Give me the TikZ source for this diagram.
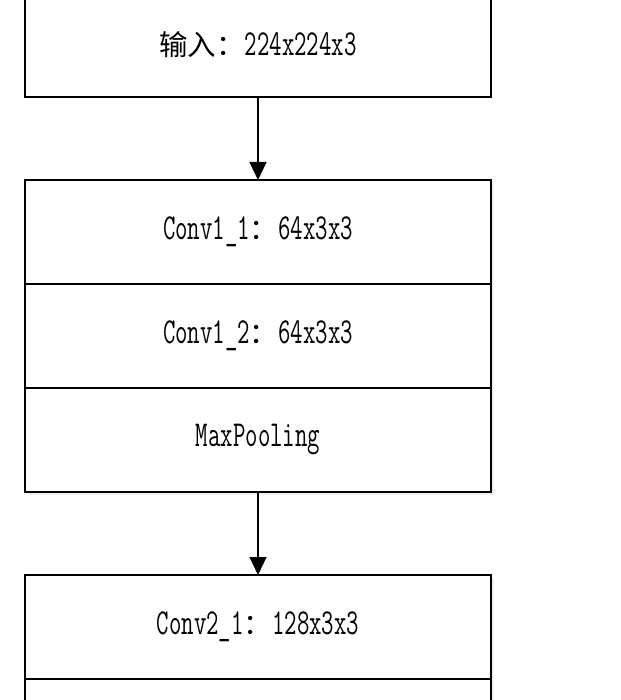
\documentclass[tikz,border=0pt]{standalone}
\usepackage{fontspec}
\setmonofont[FakeStretch=0.66]{Latin Modern Mono}
\newfontfamily\cjk[Scale=0.78]{Noto Sans CJK SC}
\usetikzlibrary{arrows.meta, positioning, shadows}

\begin{document}
\begin{tikzpicture}[node distance=2.075cm, auto,
    layer/.style={draw, line width=1.4pt, fill=white, outer sep=0pt, inner sep=0pt,
        minimum width=11.65cm, minimum height=2.6cm,
        font=\ttfamily\fontsize{26pt}{30pt}\selectfont},
    shadowed/.style={drop shadow={opacity=0.12, shadow xshift=0.08cm, shadow yshift=-0.08cm}},
    flow/.style={-{Triangle[length=0.45cm, width=0.42cm]}, line width=1.4pt}]
    \useasboundingbox (0,0) rectangle (15.5,-17.5);
    \clip (0,0) rectangle (15.5,-17.5);

    % input
    \node[layer] (input) at (6.45,-1.125) {{\cjk 输入：}224x224x3};

    % block 1
    \node[layer, shadowed, below=of input] (conv11) {Conv1\_1{\cjk ：}64x3x3};
    \node[layer, shadowed, below=0pt of conv11] (conv12) {Conv1\_2{\cjk ：}64x3x3};
    \node[layer, shadowed, below=0pt of conv12] (pool1) {MaxPooling};
    \draw[flow] (input) -- (conv11);

    % block 2
    \node[layer, shadowed, below=of pool1] (conv21) {Conv2\_1{\cjk ：}128x3x3};
    \node[layer, shadowed, below=0pt of conv21] (conv22) {};
    \draw[flow] (pool1) -- (conv21);

\end{tikzpicture}
\end{document}
